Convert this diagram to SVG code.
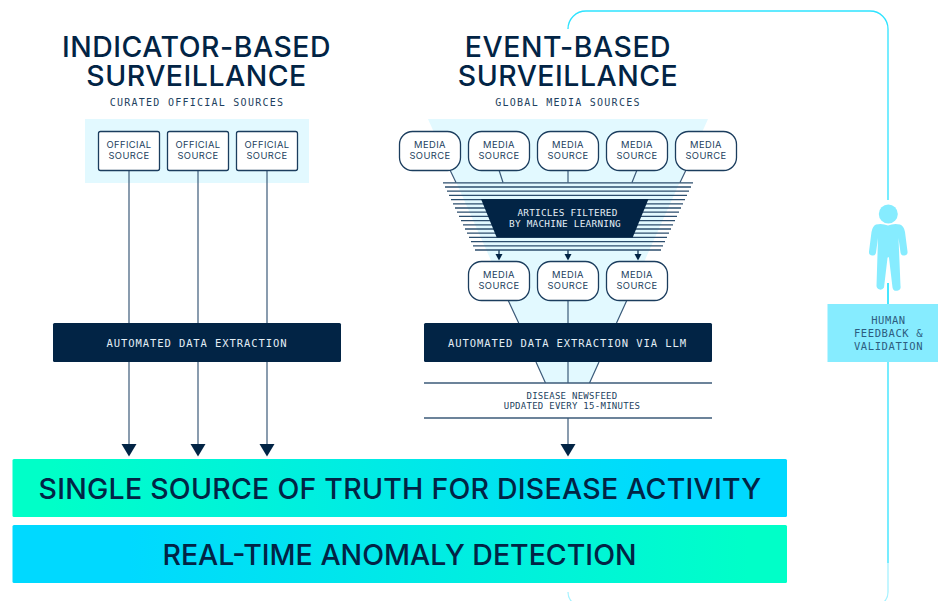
<svg xmlns="http://www.w3.org/2000/svg" width="938" height="601" viewBox="0 0 938 601">
<style>
.h{font-family:Inter,"Liberation Sans",sans-serif;font-size:28.4px;font-weight:500;fill:#022445;text-anchor:middle;letter-spacing:.55px}
.b{font-family:Inter,"Liberation Sans",sans-serif;font-size:28.5px;font-weight:500;fill:#022445;text-anchor:middle}
.m{font-family:"DejaVu Sans Mono","Liberation Mono",monospace;font-size:10px;fill:#1d3f60;text-anchor:middle;letter-spacing:1.25px}
.n{font-family:"DejaVu Sans Mono","Liberation Mono",monospace;font-size:9px;fill:#1d3f60;text-anchor:middle;letter-spacing:.27px}
.w{font-family:"DejaVu Sans Mono","Liberation Mono",monospace;fill:#e2eef5;text-anchor:middle}
.a{font-size:9.4px;letter-spacing:.25px}
.e{font-size:10.5px;letter-spacing:.92px}
.c{font-family:Inter,"Liberation Sans",sans-serif;font-size:9.4px;fill:#1d3f60;text-anchor:middle;letter-spacing:.4px}
.card{fill:#fff;stroke:#1b3d5e;stroke-width:1.3}
.ln{stroke:#3c5b7a;stroke-width:1.2;fill:none}
.st{stroke:#022445;stroke-width:1.2}
.fb{fill:none;stroke:#2ee3ff;stroke-width:1.3}
.fl{fill:none;stroke:#a6f2ff;stroke-width:1.3}
.f{fill:#022445}
.hu{font-family:"DejaVu Sans Mono","Liberation Mono",monospace;font-size:10.5px;fill:#2d5d80;text-anchor:middle;letter-spacing:.6px}
</style>
<defs>
<linearGradient id="g1" x1="0" x2="1" y1="0" y2="0"><stop offset="0.05" stop-color="#00ffc8"/><stop offset="0.85" stop-color="#00d9ff"/></linearGradient>
<linearGradient id="g2" x1="0" x2="1" y1="0" y2="0"><stop offset="0.15" stop-color="#00d9ff"/><stop offset="0.95" stop-color="#00ffc8"/></linearGradient>
</defs>

<g id="panel-indicator"><rect x="85" y="119" width="224" height="64" fill="#e2f9ff"/></g>
<g id="panel-event"><polygon points="428,119 708,119 590,383 545.500,383" fill="#e2f9ff"/></g>

<g id="titles">
<text class="h" y="56.500"><tspan x="196.500">INDICATOR-BASED</tspan><tspan x="196.500" dy="29">SURVEILLANCE</tspan></text>
<text class="m" x="197" y="105.500">CURATED OFFICIAL SOURCES</text>
<text class="h" y="56.500"><tspan x="568">EVENT-BASED</tspan><tspan x="568" dy="29">SURVEILLANCE</tspan></text>
<text class="m" x="568" y="105.500">GLOBAL MEDIA SOURCES</text>
</g>

<g id="connectors">
<path class="ln" d="M129 170V445M198 170V445M267 170V445"/>
<path class="ln" d="M450 170L456 182.500M499 170L503 182.500M568 170V182.500M637 170L632 182.500M686 170L680 182.500"/>
<path class="ln" d="M508 300L518.700 323M568 300V323M627 300L616.500 323M536 362L545.500 383M568 362V383M599 362L589.500 383M568 418V445"/>
<path class="st" d="M499 250V255M568 250V255M638 250V255"/>
<polygon class="f" points="121.500,444 136.500,444 129,456.500"/>
<polygon class="f" points="190.500,444 205.500,444 198,456.500"/>
<polygon class="f" points="259.500,444 274.500,444 267,456.500"/>
<polygon class="f" points="560.500,444 575.500,444 568,456.500"/>
<polygon class="f" points="495.500,254 502.500,254 499,260.500"/>
<polygon class="f" points="564.500,254 571.500,254 568,260.500"/>
<polygon class="f" points="634.500,254 641.500,254 638,260.500"/>
<path class="fb" d="M568 28V29C568 19 576 11 586 11H870C880 11 888 19 888 29V200M888 283V304M888 362V563"/>
<path class="fl" d="M888 563V592C888 600 882 606 874 606H582C574 606 568 600 568 592"/>
</g>

<g id="official-1"><rect class="card" x="98.500" y="131.500" width="61" height="39" rx="2"/><text class="c" x="129" y="148.300">OFFICIAL</text><text class="c" x="129" y="158.500">SOURCE</text></g>
<g id="official-2"><rect class="card" x="167.500" y="131.500" width="61" height="39" rx="2"/><text class="c" x="198" y="148.300">OFFICIAL</text><text class="c" x="198" y="158.500">SOURCE</text></g>
<g id="official-3"><rect class="card" x="236.500" y="131.500" width="61" height="39" rx="2"/><text class="c" x="267" y="148.300">OFFICIAL</text><text class="c" x="267" y="158.500">SOURCE</text></g>

<g id="media-1"><rect class="card" x="399.500" y="131.500" width="61" height="39" rx="13"/><text class="c" x="430" y="148.300">MEDIA</text><text class="c" x="430" y="158.500">SOURCE</text></g>
<g id="media-2"><rect class="card" x="468.500" y="131.500" width="61" height="39" rx="13"/><text class="c" x="499" y="148.300">MEDIA</text><text class="c" x="499" y="158.500">SOURCE</text></g>
<g id="media-3"><rect class="card" x="537.500" y="131.500" width="61" height="39" rx="13"/><text class="c" x="568" y="148.300">MEDIA</text><text class="c" x="568" y="158.500">SOURCE</text></g>
<g id="media-4"><rect class="card" x="606.500" y="131.500" width="61" height="39" rx="13"/><text class="c" x="637" y="148.300">MEDIA</text><text class="c" x="637" y="158.500">SOURCE</text></g>
<g id="media-5"><rect class="card" x="675.500" y="131.500" width="61" height="39" rx="13"/><text class="c" x="706" y="148.300">MEDIA</text><text class="c" x="706" y="158.500">SOURCE</text></g>

<g id="filter-lines" stroke="#2c4d6d" stroke-width="1.300">
<path d="M443 182.800H693M445 187H691M447 191.200H689M449 195.400H687M451 199.600H685M453 203.800H683M455 208H681M457 212.200H679M459 216.400H677M461 220.600H675M463 224.800H673M465 229H671M467 233.200H669M469 237.400H667M471 241.600H665M473 245.800H663M475 250H661"/>
</g>
<g id="filter-box">
<polygon class="f" points="481,199 648.500,199 632.700,237.500 496.700,237.500"/>
<text class="w a" x="567.500" y="216.300">ARTICLES FILTERED</text>
<text class="w a" x="565" y="226.500">BY MACHINE LEARNING</text>
</g>

<g id="media-6"><rect class="card" x="468.500" y="261.500" width="61" height="39" rx="13"/><text class="c" x="499" y="278.300">MEDIA</text><text class="c" x="499" y="288.500">SOURCE</text></g>
<g id="media-7"><rect class="card" x="537.500" y="261.500" width="61" height="39" rx="13"/><text class="c" x="568" y="278.300">MEDIA</text><text class="c" x="568" y="288.500">SOURCE</text></g>
<g id="media-8"><rect class="card" x="606.500" y="261.500" width="61" height="39" rx="13"/><text class="c" x="637" y="278.300">MEDIA</text><text class="c" x="637" y="288.500">SOURCE</text></g>

<g id="extract-left"><rect x="53" y="323" width="288" height="39" rx="1.500" class="f"/><text class="w e" x="197" y="347">AUTOMATED DATA EXTRACTION</text></g>
<g id="extract-right"><rect x="424" y="323" width="288" height="39" rx="1.500" class="f"/><text class="w e" x="567.500" y="347">AUTOMATED DATA EXTRACTION VIA LLM</text></g>

<g id="newsfeed">
<path d="M424 383H712M424 418H712" stroke="#3c5b7a" stroke-width="1.300"/>
<text class="n" x="572" y="399">DISEASE NEWSFEED</text>
<text class="n" x="572" y="409">UPDATED EVERY 15-MINUTES</text>
</g>

<g id="truth-bar"><rect x="12.500" y="459" width="774.500" height="58" rx="1.500" fill="url(#g1)"/><text class="b" style="letter-spacing:.24px" x="400" y="498.500">SINGLE SOURCE OF TRUTH FOR DISEASE ACTIVITY</text></g>
<g id="anomaly-bar"><rect x="12.500" y="525" width="774.500" height="58" rx="1.500" fill="url(#g2)"/><text class="b" x="399.500" y="564.500">REAL-TIME ANOMALY DETECTION</text></g>

<g id="human" fill="#86ecff">
<circle cx="888.300" cy="214" r="9.500"/>
<path d="M876 224.500Q882 223 888 225.500Q894 223 900 224.500Q904 226 905 232L907.500 251.500A3.500 3.500 0 0 1 900.500 252.500L898.500 238L900.500 286A4 4 0 0 1 892.500 287.500L889 258Q888.300 256 887.500 258L884 287.500A4 4 0 0 1 876.500 286L878 238L876 252.500A3.500 3.500 0 0 1 869 251.500L871.500 232Q872.500 226 876 224.500Z"/>
</g>
<path class="fb" d="M888 283V304"/>
<g id="feedback-box">
<rect x="827.500" y="304" width="110.500" height="58" fill="#86ecff"/>
<text class="hu" x="888.500" y="324">HUMAN</text><text class="hu" x="888.500" y="337">FEEDBACK &amp;</text><text class="hu" x="888.500" y="350">VALIDATION</text>
</g>
</svg>
